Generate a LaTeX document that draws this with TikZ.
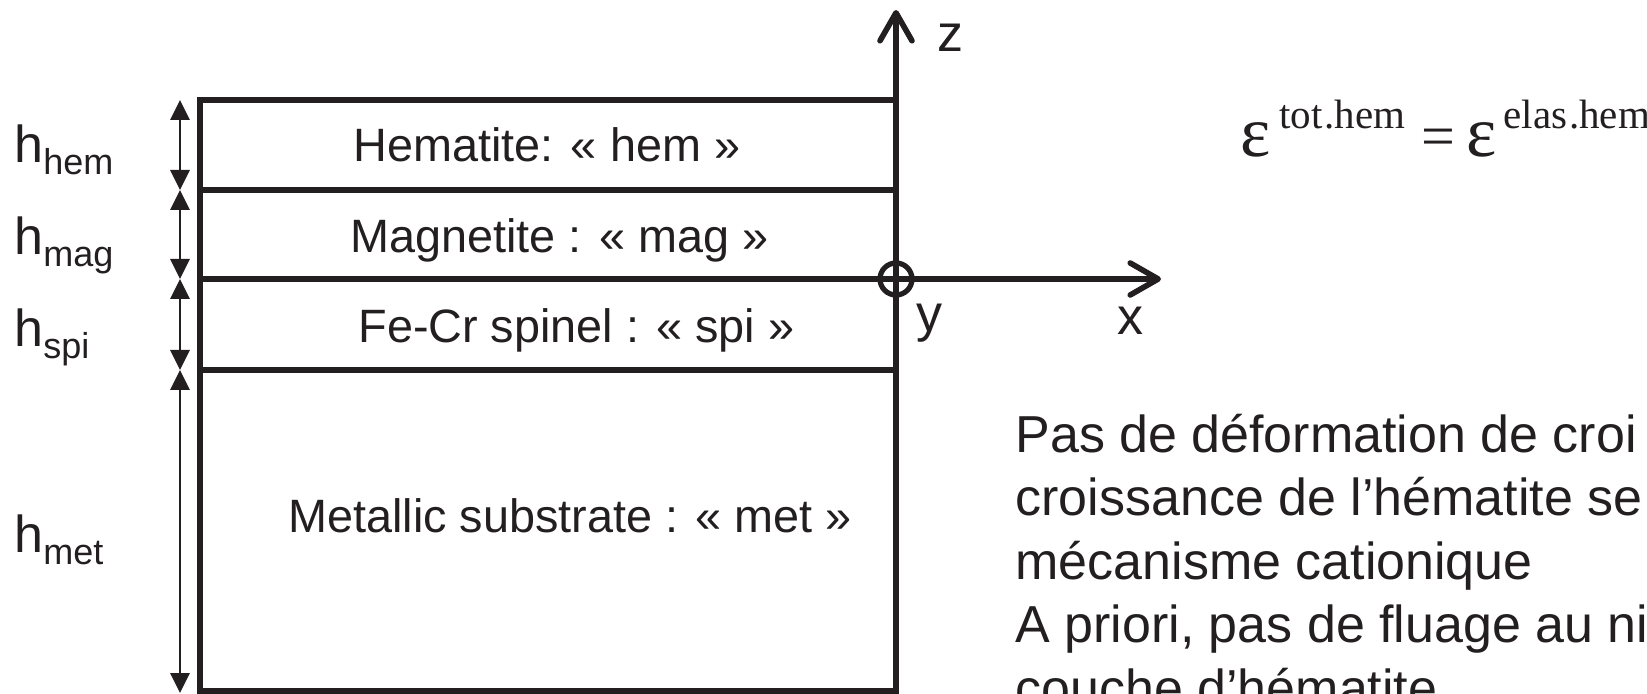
\documentclass[tikz,border=0pt]{standalone}
\usepackage{fontspec}
\setmainfont{Liberation Sans}
\newfontfamily\timesfont{Liberation Serif}
\usetikzlibrary{arrows.meta}
\definecolor{ink}{HTML}{231F20}
\newcommand{\hsub}[1]{{\fontsize{18pt}{18pt}\selectfont\raisebox{-6pt}{#1}}}
\begin{document}
\begin{tikzpicture}[x=0.5pt,y=-0.5pt,
  layerline/.style={draw=ink,line width=2.8pt},
  axisline/.style={draw=ink,line width=2.8pt,line cap=round,
    -{Straight Barb[round,length=14pt,width=16pt]}},
  dimline/.style={draw=ink,line width=1.4pt,
    {Triangle[length=10pt,width=9.5pt]}-{Triangle[length=10pt,width=9.5pt]}},
  layertext/.style={anchor=base west,inner sep=0pt,text=ink,
    font=\fontsize{23.4pt}{27pt}\selectfont},
  hlabel/.style={anchor=base west,inner sep=0pt,text=ink,
    font=\fontsize{26pt}{30pt}\selectfont},
  axislabel/.style={anchor=base west,inner sep=0pt,text=ink,
    font=\fontsize{26pt}{30pt}\selectfont},
  bodytext/.style={anchor=base west,inner sep=0pt,text=ink,
    font=\fontsize{26pt}{31.75pt}\selectfont},
  eqbig/.style={anchor=base west,inner sep=0pt,text=ink,
    font=\timesfont\fontsize{36pt}{36pt}\selectfont},
  eqsign/.style={anchor=base west,inner sep=0pt,text=ink,
    font=\timesfont\fontsize{30pt}{30pt}\selectfont},
  eqsup/.style={anchor=base west,inner sep=0pt,text=ink,
    font=\timesfont\fontsize{20.5pt}{20.5pt}\selectfont}]

\useasboundingbox (0,0) rectangle (1647,694);
\clip (0,0) rectangle (1647,694);

% layer boundaries
\coordinate (L0) at (200,100);  \coordinate (R0) at (896,100);
\coordinate (L1) at (200,190);  \coordinate (R1) at (896,190);
\coordinate (L2) at (200,279);  \coordinate (R2) at (896,279);
\coordinate (L3) at (200,370);  \coordinate (R3) at (896,370);
\coordinate (L4) at (200,691);  \coordinate (R4) at (896,691);

% stacked layers
\draw[layerline] (L0) rectangle (R1);
\draw[layerline] (L1) rectangle (R2);
\draw[layerline] (L2) rectangle (R3);
\draw[layerline] (L3) rectangle (R4);

\node[layertext] (hem) at (353,162) {Hematite: « hem »};
\node[layertext] (mag) at (350,253) {Magnetite : « mag »};
\node[layertext] (spi) at (358,343) {Fe-Cr spinel : « spi »};
\node[layertext] (met) at (288,532) {Metallic substrate : « met »};

% thickness dimensions
\coordinate (d0) at (180,100);
\coordinate (d1) at (180,190);
\coordinate (d2) at (180,279);
\coordinate (d3) at (180,370);
\coordinate (d4) at (180,693);
\draw[dimline] (d0) -- (d1);
\draw[dimline] (d1) -- (d2);
\draw[dimline] (d2) -- (d3);
\draw[dimline] (d3) -- (d4);

\node[hlabel] (hhem) at (14,163) {h\hsub{hem}};
\node[hlabel] (hmag) at (14,255) {h\hsub{mag}};
\node[hlabel] (hspi) at (14,347) {h\hsub{spi}};
\node[hlabel] (hmet) at (14,552) {h\hsub{met}};

% axes
\coordinate (O) at (896,279);
\coordinate (ztip) at (896,10);
\coordinate (xtip) at (1161,279);
\draw[axisline] (R4) -- (ztip);
\draw[axisline] (O) -- (xtip);
\draw[draw=ink,line width=2.6pt] (O) circle[radius=16];
\node[axislabel] (zl) at (937,52) {z};
\node[axislabel] (yl) at (916,332) {y};
\node[axislabel] (xl) at (1117,335) {x};

% constitutive relation
\node[eqbig] (eps1) at (1240,157) {ε};
\node[eqsup] (sup1) at (1279,129) {tot\kern1pt.hem};
\node[eqsign] (eq) at (1421,157) {=};
\node[eqbig] (eps2) at (1466,157) {ε};
\node[eqsup] (sup2) at (1503,129) {elas\kern1pt.hem};

% comments
\node[bodytext] (c1) at (1015,452) {Pas de déformation de croi};
\node[bodytext] (c2) at (1015,515.5) {croissance de l’hématite se};
\node[bodytext] (c3) at (1015,579) {mécanisme cationique};
\node[bodytext] (c4) at (1015,642.5) {A priori, pas de fluage au ni};
\node[bodytext] (c5) at (1015,706) {couche d’hématite};
\end{tikzpicture}
\end{document}
